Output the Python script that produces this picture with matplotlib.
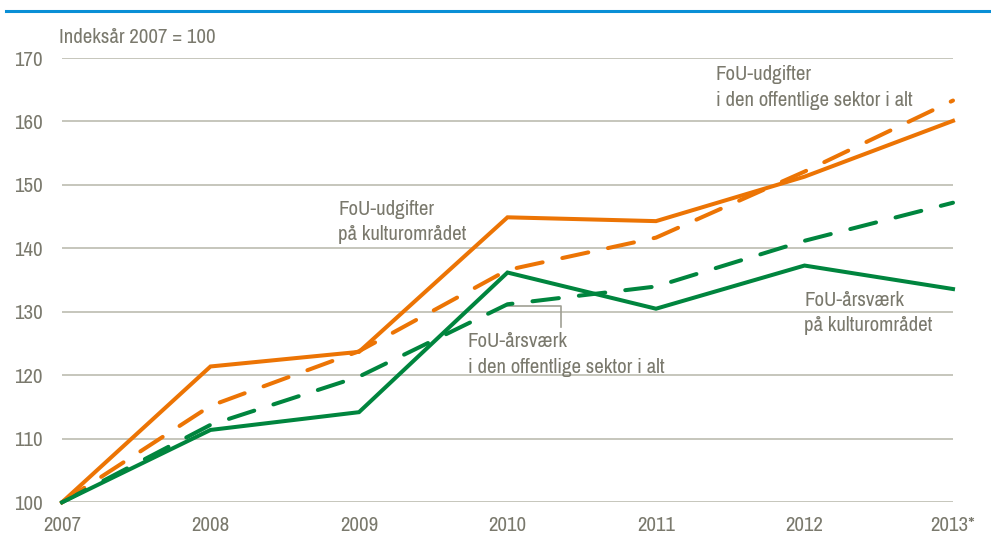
import matplotlib
matplotlib.use("Agg")
import matplotlib.pyplot as plt

years = [2007, 2008, 2009, 2010, 2011, 2012, 2013]
year_labels = ["2007", "2008", "2009", "2010", "2011", "2012", "2013*"]
udg_kultur = [100, 121.4, 123.7, 144.9, 144.3, 151.3, 160.1]
udg_offentlig = [100, 115.2, 123.8, 136.6, 141.7, 152.1, 163.3]
aars_kultur = [100, 111.4, 114.2, 136.2, 130.5, 137.3, 133.6]
aars_offentlig = [100, 112.2, 119.8, 131.2, 134.0, 141.2, 147.2]
yticks = [100, 110, 120, 130, 140, 150, 160, 170]

plt.rcParams["font.family"] = ["Archivo Narrow", "DejaVu Sans"]

ORANGE = "#EC7404"
GREEN = "#00853E"
TXT = "#7A796D"
GRID = "#C2C1B6"

fig = plt.figure(figsize=(9.91, 5.35), dpi=100)
ax = fig.add_axes([62/991, 1-502.3/535, (953-62)/991, (502.3-58)/535])
ax.set_xlim(2007, 2013)
ax.set_ylim(100, 170)

for v in yticks:
    ax.axhline(v, color=GRID, lw=1.3, zorder=1)

lw = 2.9
dash = (6.6, 5.0)
ax.plot(years, udg_offentlig, color=ORANGE, lw=lw, dashes=dash, dash_capstyle="round",
        clip_on=False, zorder=3)
ax.plot(years, aars_offentlig, color=GREEN, lw=lw, dashes=dash, dash_capstyle="round",
        clip_on=False, zorder=3)
ax.plot(years, udg_kultur, color=ORANGE, lw=lw, clip_on=False, zorder=4, solid_joinstyle="miter")
ax.plot(years, aars_kultur, color=GREEN, lw=lw, clip_on=False, zorder=4, solid_joinstyle="miter")

for s in ax.spines.values():
    s.set_visible(False)
ax.set_yticks(yticks)
ax.set_yticklabels([str(v) for v in yticks])
ax.set_xticks(years)
ax.set_xticklabels(year_labels)
ax.tick_params(axis="both", length=0, labelsize=15, colors=TXT)
ax.tick_params(axis="y", pad=14)
ax.tick_params(axis="x", pad=10)

fs = 15
ls = 1.45
fig.text(59/991, 1-43/535, "Indeksår 2007 = 100", color=TXT, fontsize=fs, va="baseline", ha="left")
ax.text(2008.859, 141.26, "FoU-udgifter\npå kulturområdet", color=TXT, fontsize=fs, va="baseline", ha="left", linespacing=ls)
ax.text(2011.402, 162.47, "FoU-udgifter\ni den offentlige sektor i alt", color=TXT, fontsize=fs, va="baseline", ha="left", linespacing=ls)
ax.text(2009.732, 120.4, "FoU-årsværk\ni den offentlige sektor i alt", color=TXT, fontsize=fs, va="baseline", ha="left", linespacing=ls)
ax.text(2011.997, 126.94, "FoU-årsværk\npå kulturområdet", color=TXT, fontsize=fs, va="baseline", ha="left", linespacing=ls)

# leader line for "FoU-årsværk i den offentlige sektor i alt"
ax.plot([2010.0, 2010.36, 2010.36], [131.0, 131.0, 127.6], color="#A09F94", lw=1.2, zorder=2, clip_on=False)

# blue top rule
fig.add_artist(plt.Line2D([6/991, 1.0], [1-11/535, 1-11/535], color="#0A8FD6", lw=2.2, transform=fig.transFigure))

fig.savefig("out.png", dpi=100, facecolor="white")
